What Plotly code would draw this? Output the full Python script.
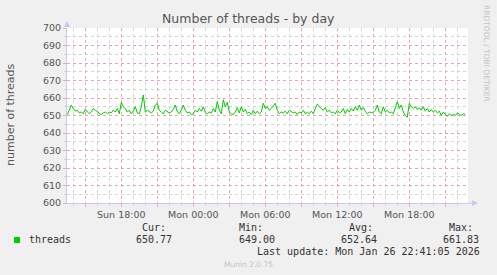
import datetime as dt
import plotly.graph_objects as go

# ---- data ----
series_name = "threads"
threads = [
    # Sun afternoon
    650.5, 653, 656, 654, 652.5, 653, 651.5, 652, 651, 653.5, 652, 651, 652, 654,
    653, 652.5, 651, 650.5, 651.5, 652, 651, 652, 651.5, 653, 652, 654, 651,
    657.5, 655, 654, 652, 653, 651, 652.5, 655, 651.5, 651, 655, 661.8, 652, 653,
    652, 651.5, 652.5, 656, 657, 653, 652, 651, 653, 652, 651.5,
    652, 653.5, 656, 652, 651, 653, 656, 653, 651.5, 652, 650.5, 651, 653, 652,
    654, 652.5, 655, 652, 651, 652, 651.5, 654, 652, 658, 653, 651, 659, 655,
    657.5, 652, 651, 650.5, 652, 654.5, 651.5, 655, 652, 653.5, 651, 652, 650.5,
    653, 651, 652.5, 651, 652, 657, 654, 655, 653, 654, 655.5,
    657, 653, 651, 652, 651.5, 652.5, 651, 653, 652, 651.5, 652, 650.5, 652,
    651.5, 653, 651, 652, 651, 652.5, 651, 654, 656.5, 655, 654, 653, 654.5, 652,
    653, 651.5, 652, 651, 653, 651.5, 652, 654, 651, 653.5, 652, 654, 652.5, 655,
    653, 656, 653, 654.5, 652.5, 651, 652, 651.5, 652,
    653, 656, 652, 651, 655, 652, 653, 651.5, 652, 651, 655, 658, 654, 656, 652,
    650, 649, 657, 655, 654, 655, 653.5, 654.5, 653, 655, 652.5, 654, 652, 653.5,
    652, 653, 651.5, 652.5, 650, 652, 650.5, 649.5, 651, 650, 650.5, 650, 651.5,
    650.5, 650, 651, 650.77,
]
last_time = dt.datetime(2026, 1, 26, 22, 40)
step = dt.timedelta(minutes=10)
times = [last_time - step * (len(threads) - 1 - i) for i in range(len(threads))]

x_range = [dt.datetime(2026, 1, 25, 13, 28, 30), dt.datetime(2026, 1, 26, 22, 53, 30)]
y_range = [600, 700]
y_ticks = list(range(600, 701, 10))

x_tick_labels = {
    dt.datetime(2026, 1, 25, 18, 0): "Sun 18:00",
    dt.datetime(2026, 1, 26, 0, 0): "Mon 00:00",
    dt.datetime(2026, 1, 26, 6, 0): "Mon 06:00",
    dt.datetime(2026, 1, 26, 12, 0): "Mon 12:00",
    dt.datetime(2026, 1, 26, 18, 0): "Mon 18:00",
}
major_x = [dt.datetime(2026, 1, 25, 15, 0) + dt.timedelta(hours=3 * k) for k in range(11)]
x_tick_text = [x_tick_labels.get(t, "") for t in major_x]

stats_head = ["Cur:", "Min:", "Avg:", "Max:"]
stats_vals = ["650.77", "649.00", "652.64", "661.83"]
last_update = "Last update: Mon Jan 26 22:41:05 2026"
title = "Number of threads - by day"
y_title = "number of threads"
version = "Munin 2.0.75"
watermark = "RRDTOOL / TOBI OETIKER"

# ---- geometry helpers (pixels -> paper) ----
W, H = 497, 275
L, R, T, B = 67, 468, 28, 203
def px(x):
    return (x - L) / (R - L)
def py(y):
    return (B - y) / (B - T)

BG = "#f0f0f0"
MAJOR = "#e6a8a8"
MINOR = "#d4d4d4"
AXIS = "#c8c8f0"
LINE = "#00cc00"
SANS = "DejaVu Sans"
MONO = "DejaVu Sans Mono"

fig = go.Figure()
fig.add_trace(go.Scatter(x=times, y=threads, mode="lines",
                         line=dict(color=LINE, width=1), name=series_name,
                         showlegend=False, hoverinfo="skip"))

fig.update_layout(
    width=W, height=H,
    margin=dict(l=L, r=W - R, t=T, b=H - B, pad=0),
    paper_bgcolor=BG, plot_bgcolor="white",
    showlegend=False,
    xaxis=dict(
        range=x_range, type="date",
        tickmode="array", tickvals=major_x, ticktext=x_tick_text,
        showgrid=True, gridcolor=MAJOR, griddash="dot", gridwidth=1,
        ticks="outside", ticklen=3, tickcolor=MAJOR,
        minor=dict(dtick=3600000, tick0="2026-01-25 00:00", showgrid=True,
                   gridcolor=MINOR, griddash="dot", ticks="outside", ticklen=2,
                   tickcolor=MINOR),
        showline=True, linecolor=AXIS, linewidth=1,
        zeroline=False,
        tickfont=dict(family=SANS, size=9.5, color="#555555"),
        fixedrange=True,
    ),
    yaxis=dict(
        range=y_range, tickmode="array", tickvals=y_ticks,
        showgrid=True, gridcolor=MAJOR, griddash="dot", gridwidth=1,
        ticks="outside", ticklen=3, tickcolor=MAJOR,
        minor=dict(dtick=5, tick0=600, showgrid=True, gridcolor=MINOR,
                   griddash="dot", ticks="outside", ticklen=2, tickcolor=MINOR),
        showline=True, linecolor=AXIS, linewidth=1,
        zeroline=False,
        tickfont=dict(family=SANS, size=9.5, color="#555555"),
        fixedrange=True,
    ),
)

# axis arrows
fig.add_shape(type="path", xref="paper", yref="paper",
              path=f"M {px(64)} {py(27)} L {px(67)} {py(21)} L {px(70)} {py(27)} Z",
              fillcolor=AXIS, line=dict(width=0))
fig.add_shape(type="path", xref="paper", yref="paper",
              path=f"M {px(468)} {py(203)} L {px(472)} {py(203)}",
              line=dict(color=AXIS, width=1))
fig.add_shape(type="path", xref="paper", yref="paper",
              path=f"M {px(472)} {py(200)} L {px(478)} {py(203)} L {px(472)} {py(206)} Z",
              fillcolor=AXIS, line=dict(width=0))

ann = []
ann.append(dict(text=title, x=px(248), y=py(18.5), xanchor="center", yanchor="middle",
                font=dict(family=SANS, size=12.5, color="#555555")))
ann.append(dict(text=y_title, x=px(10), y=py(115), xanchor="center", yanchor="middle",
                textangle=-90, font=dict(family=SANS, size=11, color="#555555")))
ann.append(dict(text=watermark, x=px(487), y=py(53), xanchor="center", yanchor="middle",
                textangle=90, font=dict(family=SANS, size=7.5, color="#c4c4c4")))
head_x = [140, 237, 347, 447]
val_x = [134, 237, 339, 441]
for hx, h in zip(head_x, stats_head):
    ann.append(dict(text=h, x=px(hx), y=py(227), xanchor="left", yanchor="middle",
                    font=dict(family=MONO, size=10, color="#333333")))
for vx, v in zip(val_x, stats_vals):
    ann.append(dict(text=v, x=px(vx), y=py(239.5), xanchor="left", yanchor="middle",
                    font=dict(family=MONO, size=10, color="#333333")))
ann.append(dict(text=series_name, x=px(27), y=py(239.5), xanchor="left", yanchor="middle",
                font=dict(family=MONO, size=10, color="#333333")))
ann.append(dict(text=last_update, x=px(482), y=py(251.5), xanchor="right", yanchor="middle",
                font=dict(family=MONO, size=10, color="#333333")))
ann.append(dict(text=version, x=px(248), y=py(264), xanchor="center", yanchor="middle",
                font=dict(family=SANS, size=7.5, color="#c4c4c4")))
for a in ann:
    a.update(xref="paper", yref="paper", showarrow=False)
fig.update_layout(annotations=ann)

# legend colour swatch
fig.add_shape(type="rect", xref="paper", yref="paper",
              x0=px(14), x1=px(20), y0=py(243), y1=py(237),
              fillcolor=LINE, line=dict(width=0))

fig.write_html("out.html")
